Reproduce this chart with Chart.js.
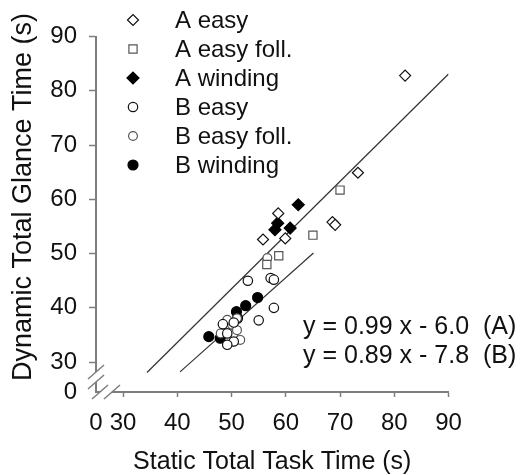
<!DOCTYPE html>
<html>
<head>
<meta charset="utf-8">
<script src="https://cdn.jsdelivr.net/npm/chart.js@4.4.0/dist/chart.umd.min.js"></script>
<style>
  html, body { margin: 0; padding: 0; background: #fff; }
  #wrap { width: 526px; height: 475px; }
</style>
</head>
<body>
<div id="wrap"><canvas id="glanceChart" width="526" height="475"></canvas></div>
<script>
// values (seconds)
var aEasyX = [82.0, 73.3, 68.6, 69.1, 58.6, 55.8, 59.9];
var aEasyY = [82.8, 64.9, 55.8, 55.3, 57.4, 52.6, 52.8];
var aFollX = [70.0, 65.0, 58.7, 56.5];
var aFollY = [61.7, 53.4, 49.6, 48.0];
var aWindX = [62.3, 58.5, 58.0, 60.8];
var aWindY = [59.0, 55.6, 54.4, 54.7];
var bEasyX = [53.0, 57.2, 57.8, 57.8, 55.0, 48.4, 50.4, 49.2, 50.4, 49.2];
var bEasyY = [45.0, 45.5, 45.2, 40.0, 37.7, 37.0, 37.3, 35.3, 33.8, 33.2];
var bFollX = [48.8, 50.1, 48.0, 50.4, 51.6, 51.0, 49.2, 51.0, 56.6];
var bFollY = [36.3, 36.9, 35.3, 35.3, 34.1, 35.9, 37.8, 38.1, 49.2];
var bWindX = [45.8, 47.9, 50.9, 51.1, 52.6, 54.8];
var bWindY = [34.7, 34.4, 39.3, 38.1, 40.4, 41.9];

// regression line end points
var fitAX = [34.4, 90];
var fitAY = [28.1, 83.1];
var fitBX = [40.5, 65.1];
var fitBY = [28.2, 50.1];

// broken axes: the lowest tick stands for "0"
var xTickValues = [25, 30, 40, 50, 60, 70, 80, 90];
var xTickLabels = ['0', '30', '40', '50', '60', '70', '80', '90'];
var yTickValues = [24.5, 30, 40, 50, 60, 70, 80, 90];
var yTickLabels = ['0', '30', '40', '50', '60', '70', '80', '90'];

var equations = ['y = 0.99 x - 6.0', 'y = 0.89 x - 7.8'];
var eqTags = ['(A)', '(B)'];
var yTitle = 'Dynamic Total Glance Time (s)';

var FONT = "'Liberation Sans', Arial, sans-serif";
var axisGray = '#7d7d7d';

function pts(xs, ys) {
  var out = [];
  for (var i = 0; i < xs.length; i++) out.push({ x: xs[i], y: ys[i] });
  return out;
}

function scatterSet(label, xs, ys, style, radius, fill, border) {
  return {
    type: 'scatter',
    label: label,
    data: pts(xs, ys),
    pointStyle: style,
    pointRadius: radius,
    pointHoverRadius: radius,
    pointBackgroundColor: fill,
    pointBorderColor: border,
    pointBorderWidth: 1.2,
    order: 1
  };
}

function fitSet(xs, ys) {
  return {
    type: 'line',
    label: '',
    data: pts(xs, ys),
    borderColor: '#333',
    borderWidth: 1.2,
    pointRadius: 0,
    fill: false,
    order: 5
  };
}

// legend drawn inside the plot, top left
var insideLegend = {
  id: 'insideLegend',
  afterDraw: function(chart) {
    var ctx = chart.ctx;
    var row = 0;
    ctx.save();
    ctx.font = '24px ' + FONT;
    ctx.textBaseline = 'middle';
    ctx.textAlign = 'left';
    chart.data.datasets.forEach(function(ds) {
      if (ds.type !== 'scatter') return;
      var y = 20 + row * 29;
      ctx.fillStyle = ds.pointBackgroundColor;
      ctx.strokeStyle = ds.pointBorderColor;
      ctx.lineWidth = ds.pointBorderWidth;
      Chart.helpers.drawPoint(ctx, { pointStyle: ds.pointStyle, radius: ds.pointRadius, borderWidth: ds.pointBorderWidth, rotation: 0 }, 133, y);
      ctx.fillStyle = '#111';
      ctx.fillText(ds.label, 175, y + 1);
      row++;
    });
    ctx.restore();
  }
};

// axis breaks, y title and regression equations
var extras = {
  id: 'extras',
  afterDraw: function(chart) {
    var ctx = chart.ctx;
    var a = chart.chartArea;
    var L = a.left, B = a.bottom;
    ctx.save();
    // clear axis gaps
    ctx.fillStyle = '#fff';
    ctx.fillRect(L - 3, B - 20, 6, 10);
    ctx.fillRect(L + 4, B - 3, 12, 6);
    ctx.strokeStyle = axisGray;
    ctx.lineWidth = 1.5;
    [B - 20, B - 10].forEach(function(y) {
      ctx.beginPath();
      ctx.moveTo(L - 8, y + 7);
      ctx.lineTo(L + 8, y - 7);
      ctx.stroke();
    });
    [L + 4, L + 16].forEach(function(x) {
      ctx.beginPath();
      ctx.moveTo(x - 8, B + 7);
      ctx.lineTo(x + 8, B - 7);
      ctx.stroke();
    });
    ctx.fillStyle = '#111';
    ctx.textBaseline = 'middle';
    // y axis title
    ctx.save();
    ctx.translate(24, 197);
    ctx.rotate(-Math.PI / 2);
    ctx.textAlign = 'center';
    ctx.font = '27px ' + FONT;
    ctx.fillText(yTitle, 0, 0);
    ctx.restore();
    // equations
    ctx.font = '25px ' + FONT;
    ctx.textAlign = 'left';
    for (var i = 0; i < equations.length; i++) {
      ctx.fillText(equations[i], 303, 327 + i * 29);
      ctx.fillText(eqTags[i], 483, 327 + i * 29);
    }
    ctx.restore();
  }
};

function tickColor(minVal) {
  return function(c) {
    return c.tick && c.tick.value === minVal ? 'rgba(0,0,0,0)' : axisGray;
  };
}

var chart = new Chart(document.getElementById('glanceChart').getContext('2d'), {
  data: {
    datasets: [
      scatterSet('A easy', aEasyX, aEasyY, 'rectRot', 5.5, '#fff', '#111'),
      scatterSet('A easy foll.', aFollX, aFollY, 'rect', 5.8, '#fff', '#555'),
      scatterSet('A winding', aWindX, aWindY, 'rectRot', 6, '#000', '#000'),
      scatterSet('B easy', bEasyX, bEasyY, 'circle', 4.7, '#fff', '#111'),
      scatterSet('B easy foll.', bFollX, bFollY, 'circle', 4.4, '#fff', '#555'),
      scatterSet('B winding', bWindX, bWindY, 'circle', 5, '#000', '#000'),
      fitSet(fitAX, fitAY),
      fitSet(fitBX, fitBY)
    ]
  },
  options: {
    responsive: false,
    animation: false,
    layout: { padding: { top: 36.5, right: 77.5, left: 0, bottom: 0 } },
    plugins: {
      legend: { display: false },
      tooltip: { enabled: false }
    },
    scales: {
      x: {
        type: 'linear',
        min: xTickValues[0],
        max: 90,
        afterBuildTicks: function(scale) {
          scale.ticks = xTickValues.map(function(v) { return { value: v }; });
        },
        afterFit: function(scale) { scale.height = 83; },
        border: { color: axisGray, width: 2 },
        grid: { drawOnChartArea: false, drawTicks: true, tickLength: 5, tickWidth: 1.5, tickColor: tickColor(xTickValues[0]) },
        ticks: {
          autoSkip: false,
          maxRotation: 0,
          padding: 12,
          color: '#111',
          font: { family: FONT, size: 24 },
          callback: function(v, i) { return xTickLabels[i]; }
        },
        title: {
          display: true,
          text: 'Static Total Task Time (s)',
          color: '#111',
          font: { family: FONT, size: 25, lineHeight: 1 },
          padding: { top: 0, bottom: 0 }
        }
      },
      y: {
        type: 'linear',
        min: yTickValues[0],
        max: 90,
        afterBuildTicks: function(scale) {
          scale.ticks = yTickValues.map(function(v) { return { value: v }; });
        },
        afterFit: function(scale) { scale.width = 96; },
        border: { color: axisGray, width: 2 },
        grid: { drawOnChartArea: false, drawTicks: true, tickLength: 7, tickWidth: 1.5, tickColor: tickColor(yTickValues[0]) },
        ticks: {
          autoSkip: false,
          padding: 12,
          color: '#111',
          font: { family: FONT, size: 24 },
          callback: function(v, i) { return yTickLabels[i]; }
        },
        title: { display: false }
      }
    }
  },
  plugins: [insideLegend, extras]
});
</script>
</body>
</html>
